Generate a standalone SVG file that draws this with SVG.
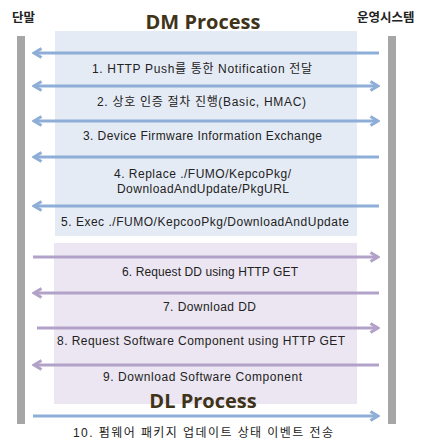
<svg xmlns="http://www.w3.org/2000/svg" width="426" height="440" viewBox="0 0 426 440">
<style>
.lbl{font-family:"Liberation Sans","Noto Sans CJK KR",sans-serif;font-size:12px;fill:#222}
.hdr{font-family:"Noto Sans CJK KR",sans-serif;font-size:12.5px;font-weight:bold;fill:#222}
.ttl{font-family:"Open Sans","Liberation Sans",sans-serif;font-size:20px;font-weight:bold;fill:#3f3419;text-anchor:middle}
.blue{stroke:#8eaed8;stroke-width:3;fill:none}
.purp{stroke:#b2a1c8;stroke-width:3;fill:none}
.bar{fill:#a6a6a6}
</style>
<defs>
<marker id="hb" viewBox="0 0 12 12" refX="10" refY="6" markerWidth="12" markerHeight="12" markerUnits="userSpaceOnUse" orient="auto-start-reverse">
<path d="M2.5,1.5 L10,6 L2.5,10.5" fill="none" stroke="#8eaed8" stroke-width="3"/>
</marker>
<marker id="hp" viewBox="0 0 12 12" refX="10" refY="6" markerWidth="12" markerHeight="12" markerUnits="userSpaceOnUse" orient="auto-start-reverse">
<path d="M2.5,1.5 L10,6 L2.5,10.5" fill="none" stroke="#b2a1c8" stroke-width="3"/>
</marker>
</defs>
<rect width="426" height="440" fill="#ffffff"/>
<g id="dm-panel">
<rect x="55" y="31" width="302" height="205" fill="#e5ebf5"/>
<text class="ttl" x="203" y="29">DM Process</text>
</g>
<g id="dl-panel">
<rect x="54" y="243" width="303" height="161" fill="#ebe6f1"/>
<text class="ttl" x="203" y="408">DL Process</text>
</g>
<g id="terminal">
<text class="hdr" x="12" y="22">단말</text>
<rect class="bar" x="17" y="36" width="8" height="388"/>
</g>
<g id="operating-system">
<text class="hdr" x="357" y="22">운영시스템</text>
<rect class="bar" x="388" y="36" width="8" height="388"/>
</g>
<g id="connectors">
<path class="blue" d="M379,53 H34" marker-end="url(#hb)"/>
<path class="blue" d="M34,86 H378" marker-start="url(#hb)" marker-end="url(#hb)"/>
<path class="blue" d="M34,121 H378" marker-start="url(#hb)" marker-end="url(#hb)"/>
<path class="blue" d="M379,157 H34" marker-end="url(#hb)"/>
<path class="blue" d="M379,206 H34" marker-end="url(#hb)"/>
<path class="purp" d="M33,257 H378" marker-end="url(#hp)"/>
<path class="purp" d="M379,293 H34" marker-end="url(#hp)"/>
<path class="purp" d="M37,328 H378" marker-end="url(#hp)"/>
<path class="purp" d="M379,365 H34" marker-end="url(#hp)"/>
<path class="blue" d="M33,416 H378" marker-end="url(#hb)"/>
</g>
<g id="labels">
<text class="lbl" x="92" y="73" textLength="220" lengthAdjust="spacing">1. HTTP Push를 통한 Notification 전달</text>
<text class="lbl" x="97" y="106" textLength="209" lengthAdjust="spacing">2. 상호 인증 절차 진행(Basic, HMAC)</text>
<text class="lbl" x="83" y="140" textLength="239" lengthAdjust="spacing">3. Device  Firmware Information Exchange</text>
<text class="lbl" x="114" y="178" textLength="177" lengthAdjust="spacing">4. Replace ./FUMO/KepcoPkg/</text>
<text class="lbl" x="117" y="193" textLength="172" lengthAdjust="spacing">DownloadAndUpdate/PkgURL</text>
<text class="lbl" x="61" y="226" textLength="288" lengthAdjust="spacing">5. Exec ./FUMO/KepcooPkg/DownloadAndUpdate</text>
<text class="lbl" x="122" y="276" textLength="176" lengthAdjust="spacing">6. Request DD using HTTP GET</text>
<text class="lbl" x="163" y="311" textLength="93" lengthAdjust="spacing">7. Download DD</text>
<text class="lbl" x="57" y="345" textLength="288" lengthAdjust="spacing">8. Request Software Component  using HTTP  GET</text>
<text class="lbl" x="103" y="381" textLength="199" lengthAdjust="spacing">9. Download Software Component</text>
<text class="lbl" x="73" y="437" textLength="260" lengthAdjust="spacing">10. 펌웨어 패키지 업데이트 상태 이벤트 전송</text>
</g>
</svg>
